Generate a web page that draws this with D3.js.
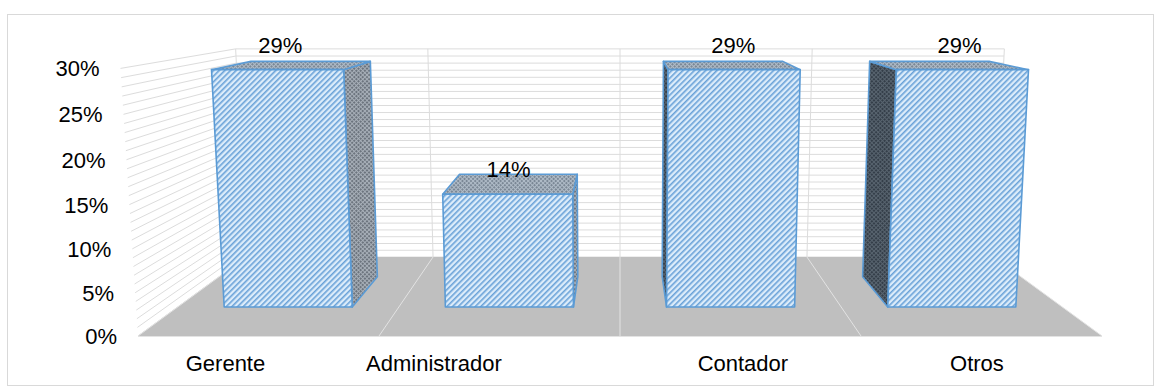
<!DOCTYPE html>
<html>
<head>
<meta charset="utf-8">
<script src="https://cdn.jsdelivr.net/npm/d3@7"></script>
<style>
  html, body { margin: 0; padding: 0; background: #fff; }
  svg { display: block; }
  text { font-family: "Liberation Sans", Arial, sans-serif; fill: #000; }
</style>
</head>
<body>
<svg id="chart" width="1161" height="392"></svg>
<script>
// ---- data ----
const categories = ["Gerente", "Administrador", "Contador", "Otros"];
const values = [0.29, 0.14, 0.29, 0.29];
const valueLabels = ["29%", "14%", "29%", "29%"];
const tickValues = [0, 0.05, 0.10, 0.15, 0.20, 0.25, 0.30];
const tickLabels = ["0%", "5%", "10%", "15%", "20%", "25%", "30%"];
const minorStep = 0.01;
// horizontal nudge of each category label, in category widths
const labelNudge = [-0.137, -0.272, 0.01, -0.019];

// ---- layout ----
const W = 1161, H = 392;
const svg = d3.select("#chart");

// world units: X across categories [0,4], Y value normalised [0,1], Z depth [0 front, 1 back]
const xBand = d3.scaleBand().domain(categories).range([0, 4])
  .paddingInner(0.421).paddingOuter(0.2105);
const slot = d3.scaleBand().domain(categories).range([0, 4]);
const yVal = d3.scaleLinear().domain([0, 0.30]).range([0, 1]);
const barZ = [0.31, 0.70];

// perspective projection of the 3-D box onto the screen
const P = { cx: 620, kx: 241, g: 336, a: -270, b: -4.7, p: -0.035, q: 0.289 };
function proj(X, Y, Z) {
  const w = 1 + P.p * Y + P.q * Z;
  return [P.cx + (X - 2) * P.kx / w, (P.g + P.a * Y + P.b * Z) / w];
}
const poly = pts => pts.map(p => p.join(",")).join(" ");
function seg(g, a, b) {
  return g.append("line").attr("x1", a[0]).attr("y1", a[1]).attr("x2", b[0]).attr("y2", b[1]);
}

// ---- fill patterns ----
const defs = svg.append("defs");
function stripes(id, bg, fg, size, sw) {
  const pt = defs.append("pattern").attr("id", id)
    .attr("patternUnits", "userSpaceOnUse")
    .attr("width", size).attr("height", size)
    .attr("patternTransform", "rotate(45)");
  pt.append("rect").attr("width", size).attr("height", size).attr("fill", bg);
  pt.append("rect").attr("width", sw).attr("height", size).attr("fill", fg);
}
function grid(id, bg, fg, size) {
  const pt = defs.append("pattern").attr("id", id)
    .attr("patternUnits", "userSpaceOnUse")
    .attr("width", size).attr("height", size)
    .attr("patternTransform", "rotate(45)");
  pt.append("rect").attr("width", size).attr("height", size).attr("fill", bg);
  pt.append("rect").attr("width", 1).attr("height", size).attr("fill", fg);
  pt.append("rect").attr("width", size).attr("height", 1).attr("fill", fg);
}
stripes("front", "#dcecfa", "#6aa2d8", 4, 1.6);
grid("sideLight", "#6c747e", "#a7afb8", 3);
grid("sideDark", "#343e49", "#58646f", 3);
grid("top", "#7a8795", "#b0bcc8", 3);

// ---- chart border ----
svg.append("rect").attr("x", 7.5).attr("y", 14.5).attr("width", W - 15).attr("height", H - 21)
  .attr("fill", "#fff").attr("stroke", "#d9d9d9").attr("stroke-width", 1);

// ---- walls: gridlines every 1 % on side wall and back wall ----
const gGrid = svg.append("g").attr("stroke", "#dcdcdc").attr("stroke-width", 1).attr("fill", "none");
d3.range(0, 0.30 + 1e-9, minorStep).forEach(v => {
  const y = yVal(v);
  const a = proj(0, y, 0), b = proj(0, y, 1), c = proj(4, y, 1);
  seg(gGrid, a, b);
  seg(gGrid, b, c);
});
// category dividers on the back wall
const edges = categories.map(c => slot(c)).concat([4]);
edges.forEach(X => seg(gGrid, proj(X, 0, 1), proj(X, 1, 1)));

// ---- floor ----
svg.append("polygon")
  .attr("points", poly([proj(0, 0, 0), proj(4, 0, 0), proj(4, 0, 1), proj(0, 0, 1)]))
  .attr("fill", "#bfbfbf");
const gFloor = svg.append("g").attr("stroke", "#e3e3e3").attr("stroke-width", 1);
edges.forEach(X => seg(gFloor, proj(X, 0, 0), proj(X, 0, 1)));
{
  const a = proj(0, 0, 0), b = proj(4, 0, 0);
  seg(gFloor, [a[0], a[1] + 0.5], [b[0], b[1] + 0.5]);
}

// ---- bars ----
const gBars = svg.append("g");
categories.forEach((c, i) => {
  const x0 = xBand(c), x1 = x0 + xBand.bandwidth();
  const v = yVal(values[i]);
  const [z0, z1] = barZ;
  const g = gBars.append("g").attr("stroke", "#5b9bd5").attr("stroke-width", 1.6)
    .attr("stroke-linejoin", "round");
  const centre = (x0 + x1) / 2;
  // side face turned towards the centre of view
  const sx = centre < 2 ? x1 : x0;
  g.append("polygon")
    .attr("points", poly([proj(sx, 0, z0), proj(sx, v, z0), proj(sx, v, z1), proj(sx, 0, z1)]))
    .attr("fill", centre < 2 ? "url(#sideLight)" : "url(#sideDark)");
  // top face
  g.append("polygon")
    .attr("points", poly([proj(x0, v, z0), proj(x1, v, z0), proj(x1, v, z1), proj(x0, v, z1)]))
    .attr("fill", "url(#top)");
  // front face
  g.append("polygon")
    .attr("points", poly([proj(x0, 0, z0), proj(x1, 0, z0), proj(x1, v, z0), proj(x0, v, z0)]))
    .attr("fill", "url(#front)");
});

// ---- value labels ----
categories.forEach((c, i) => {
  const xc = xBand(c) + xBand.bandwidth() / 2;
  const p = proj(xc, yVal(values[i]), barZ[0] + 0.03);
  svg.append("text").attr("x", p[0]).attr("y", p[1] - 16)
    .attr("text-anchor", "middle").attr("font-size", 22).text(valueLabels[i]);
});

// ---- value axis labels ----
tickValues.forEach((v, i) => {
  const p = proj(0, yVal(v), 0);
  svg.append("text").attr("x", p[0] - 21).attr("y", p[1])
    .attr("dy", "0.36em").attr("text-anchor", "end").attr("font-size", 22).text(tickLabels[i]);
});

// ---- category labels ----
categories.forEach((c, i) => {
  const p = proj(slot(c) + slot.bandwidth() / 2 + labelNudge[i], 0, 0);
  svg.append("text").attr("x", p[0]).attr("y", 371)
    .attr("text-anchor", "middle").attr("font-size", 22).text(c);
});
</script>
</body>
</html>
